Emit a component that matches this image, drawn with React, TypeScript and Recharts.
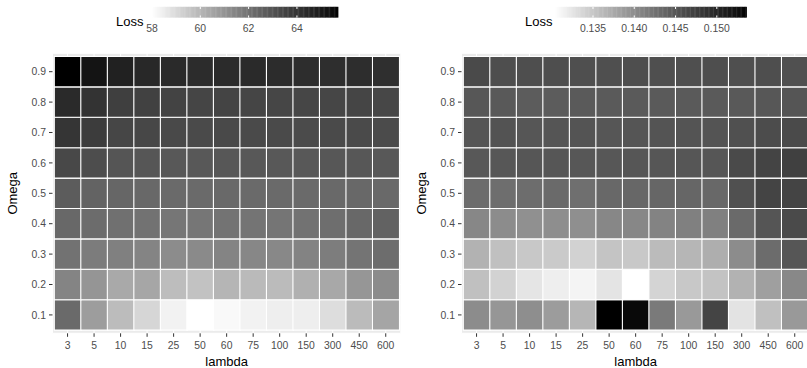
import React from 'react';
import { BarChart, Bar, XAxis, YAxis, CartesianGrid, Cell } from 'recharts';

// ---------- data ----------
const lambdas = ['3', '5', '10', '15', '25', '50', '60', '75', '100', '150', '300', '450', '600'];
const omegas = [0.1, 0.2, 0.3, 0.4, 0.5, 0.6, 0.7, 0.8, 0.9];

// Left panel: Loss by Omega row (columns follow lambdas)
const leftW01 = [62.25, 60.71, 59.83, 59.11, 58.34, 58.0, 58.17, 58.34, 58.45, 58.45, 58.92, 59.87, 60.48];
const leftW02 = [61.45, 60.95, 60.37, 60.46, 59.8, 59.66, 60.03, 59.89, 59.86, 60.17, 60.4, 60.92, 61.22];
const leftW03 = [62.0, 61.7, 61.57, 61.45, 61.22, 61.28, 61.45, 61.36, 61.33, 61.48, 61.67, 61.94, 62.16];
const leftW04 = [62.31, 62.19, 62.07, 62.0, 61.88, 61.88, 61.97, 61.94, 61.91, 62.0, 62.13, 62.31, 62.5];
const leftW05 = [62.69, 62.47, 62.37, 62.31, 62.25, 62.25, 62.28, 62.25, 62.25, 62.25, 62.28, 62.31, 62.28];
const leftW06 = [63.34, 63.17, 62.92, 62.88, 62.82, 62.82, 62.85, 62.82, 62.82, 62.82, 62.85, 62.85, 62.82];
const leftW07 = [63.99, 63.75, 63.41, 63.38, 63.31, 63.27, 63.31, 63.27, 63.27, 63.24, 63.27, 63.27, 63.24];
const leftW08 = [64.38, 64.06, 63.65, 63.58, 63.51, 63.45, 63.48, 63.45, 63.41, 63.41, 63.41, 63.45, 63.38];
const leftW09 = [65.7, 65.22, 64.71, 64.46, 64.38, 64.31, 64.35, 64.38, 64.31, 64.28, 64.24, 64.28, 64.21];

// Right panel
const rightW01 = [0.1401, 0.1392, 0.1399, 0.1387, 0.1364, 0.1536, 0.153, 0.1417, 0.1389, 0.1469, 0.1327, 0.1356, 0.1389];
const rightW02 = [0.1356, 0.1341, 0.1325, 0.1318, 0.1313, 0.1326, 0.1304, 0.1339, 0.1349, 0.1353, 0.1368, 0.1384, 0.1404];
const rightW03 = [0.1368, 0.1356, 0.1349, 0.1347, 0.1341, 0.1352, 0.1349, 0.136, 0.1364, 0.1371, 0.1401, 0.143, 0.1451];
const rightW04 = [0.1405, 0.1401, 0.1397, 0.1399, 0.1398, 0.1405, 0.1405, 0.1409, 0.1412, 0.1412, 0.1432, 0.1452, 0.1463];
const rightW05 = [0.143, 0.1428, 0.1429, 0.1432, 0.1427, 0.1434, 0.1435, 0.1436, 0.1436, 0.1434, 0.1457, 0.1469, 0.1469];
const rightW06 = [0.1449, 0.145, 0.1451, 0.1451, 0.145, 0.145, 0.1451, 0.1451, 0.1451, 0.1451, 0.1463, 0.1469, 0.1473];
const rightW07 = [0.1452, 0.1454, 0.1451, 0.1452, 0.1453, 0.1451, 0.1452, 0.1453, 0.1453, 0.1453, 0.1457, 0.1461, 0.1463];
const rightW08 = [0.145, 0.1448, 0.1445, 0.1445, 0.1447, 0.1447, 0.1447, 0.1447, 0.1447, 0.1447, 0.1448, 0.145, 0.1452];
const rightW09 = [0.1463, 0.1459, 0.1459, 0.1459, 0.1458, 0.1458, 0.1459, 0.1458, 0.1458, 0.1459, 0.1458, 0.1459, 0.1457];

const leftLegendTicks = [58, 60, 62, 64];
const rightLegendTicks = [0.135, 0.14, 0.145, 0.15];

const leftRows = [leftW01, leftW02, leftW03, leftW04, leftW05, leftW06, leftW07, leftW08, leftW09];
const rightRows = [rightW01, rightW02, rightW03, rightW04, rightW05, rightW06, rightW07, rightW08, rightW09];

// ---------- helpers ----------
const FONT = '"Liberation Sans", Arial, Helvetica, sans-serif';
const TICK_FS = 10.4;
const TITLE_FS = 13;

// white -> black, interpolated in CIE Lab lightness (as ggplot's gradient does)
function grayFor(v: number, min: number, max: number): string {
  const t = Math.max(0, Math.min(1, (v - min) / (max - min)));
  const L = 100 * (1 - t);
  const fy = (L + 16) / 116;
  const Y = L > 8 ? fy * fy * fy : L / 903.3;
  const s = Y <= 0.0031308 ? 12.92 * Y : 1.055 * Math.pow(Y, 1 / 2.4) - 0.055;
  const g = Math.round(Math.max(0, Math.min(1, s)) * 255);
  return `rgb(${g},${g},${g})`;
}

function buildTable() {
  const step = omegas[1] - omegas[0];
  return lambdas.map((lam) => {
    const rec: Record<string, number | string> = { lambda: lam, base: omegas[0] - step / 2 };
    omegas.forEach((_, i) => {
      rec['w' + i] = step;
    });
    return rec;
  });
}

const CHART_W = 410;
const CHART_H = 368;
const PLOT_LEFT = 52.5;
const PLOT_RIGHT = 400.8;
const PLOT_TOP = 53.3;
const PLOT_BOTTOM = 333.3;

interface PanelProps {
  rows: number[][];
  ticks: number[];
  tickFmt: (v: number) => string;
  barLeft: number;
  barRight: number;
  offsetX: number;
}

function Panel({ rows, ticks, tickFmt, barLeft, barRight, offsetX }: PanelProps) {
  const all = rows.flat();
  const min = Math.min(...all);
  const max = Math.max(...all);
  const data = buildTable();
  const step = omegas[1] - omegas[0];
  const pad = 0.0105;
  const yDomain = [omegas[0] - step / 2 - pad, omegas[omegas.length - 1] + step / 2 + pad];

  // legend bar
  const barTop = 6.8;
  const barH = 10.8;
  const bw = barRight - barLeft;
  const nSlices = 150;
  const slices = Array.from({ length: nSlices }, (_, k) => k);
  const xOf = (v: number) => barLeft + ((v - min) / (max - min)) * bw;
  const midY = (PLOT_TOP + PLOT_BOTTOM) / 2;

  return (
    <div style={{ position: 'absolute', left: offsetX, top: 0, width: CHART_W, height: CHART_H }}>
      <BarChart
        width={CHART_W}
        height={CHART_H}
        data={data}
        barCategoryGap={0}
        barGap={0}
        margin={{ top: PLOT_TOP, right: CHART_W - PLOT_RIGHT, bottom: CHART_H - PLOT_BOTTOM - 30, left: PLOT_LEFT - 40 }}
      >
        <CartesianGrid fill="#EBEBEB" stroke="#FFFFFF" strokeWidth={1} />
        <XAxis
          dataKey="lambda"
          type="category"
          height={30}
          padding={{ left: 1.8, right: 1.8 }}
          axisLine={false}
          tickLine={{ stroke: '#333333', strokeWidth: 1 }}
          tickSize={3.5}
          tickMargin={4.5}
          interval={0}
          tick={{ fill: '#4D4D4D', fontSize: TICK_FS, fontFamily: FONT }}
        />
        <YAxis
          type="number"
          width={40}
          domain={yDomain}
          allowDataOverflow
          ticks={omegas}
          tickFormatter={(v: number) => v.toFixed(1)}
          axisLine={false}
          tickLine={{ stroke: '#333333', strokeWidth: 1 }}
          tickSize={3.5}
          tickMargin={3}
          tick={{ fill: '#4D4D4D', fontSize: TICK_FS, fontFamily: FONT }}
        />
        <Bar dataKey="base" stackId="s" fill="transparent" stroke="none" isAnimationActive={false} />
        {omegas.map((_, i) => (
          <Bar
            key={'w' + i}
            dataKey={'w' + i}
            stackId="s"
            stroke="#FFFFFF"
            strokeWidth={1.1}
            isAnimationActive={false}
          >
            {lambdas.map((__, j) => (
              <Cell key={j} fill={grayFor(rows[i][j], min, max)} />
            ))}
          </Bar>
        ))}
      </BarChart>
      <svg
        width={CHART_W}
        height={CHART_H}
        style={{ position: 'absolute', left: 0, top: 0, pointerEvents: 'none' }}
        fontFamily={FONT}
      >
        {/* axis titles */}
        <text x={(PLOT_LEFT + PLOT_RIGHT) / 2} y={365.5} textAnchor="middle" fontSize={TITLE_FS} fill="#000">
          lambda
        </text>
        <text
          x={17}
          y={midY}
          textAnchor="middle"
          fontSize={TITLE_FS}
          fill="#000"
          transform={`rotate(-90 17 ${midY})`}
        >
          Omega
        </text>
        {/* legend */}
        <text x={116} y={25.7} fontSize={TITLE_FS} fill="#000">
          Loss
        </text>
        {slices.map((k) => (
          <rect
            key={k}
            x={barLeft + (k * bw) / nSlices}
            y={barTop}
            width={bw / nSlices + 0.4}
            height={barH}
            fill={grayFor(min + ((k + 0.5) / nSlices) * (max - min), min, max)}
          />
        ))}
        {ticks.map((t) => (
          <g key={t}>
            <line x1={xOf(t)} x2={xOf(t)} y1={barTop} y2={barTop + barH / 5} stroke="#FFFFFF" strokeWidth={1} />
            <line
              x1={xOf(t)}
              x2={xOf(t)}
              y1={barTop + barH - barH / 5}
              y2={barTop + barH}
              stroke="#FFFFFF"
              strokeWidth={1}
            />
            <text x={xOf(t)} y={31.7} textAnchor="middle" fontSize={TICK_FS} fill="#4D4D4D">
              {tickFmt(t)}
            </text>
          </g>
        ))}
      </svg>
    </div>
  );
}

export default function App() {
  return (
    <div
      style={{
        position: 'absolute',
        left: 0,
        top: 0,
        width: 807,
        height: 368,
        overflow: 'hidden',
        background: '#FFFFFF',
      }}
    >
      <Panel
        rows={leftRows}
        ticks={leftLegendTicks}
        tickFmt={(v) => String(v)}
        barLeft={152}
        barRight={338}
        offsetX={0}
      />
      <Panel
        rows={rightRows}
        ticks={rightLegendTicks}
        tickFmt={(v) => v.toFixed(3)}
        barLeft={146}
        barRight={337.5}
        offsetX={409.2}
      />
    </div>
  );
}
